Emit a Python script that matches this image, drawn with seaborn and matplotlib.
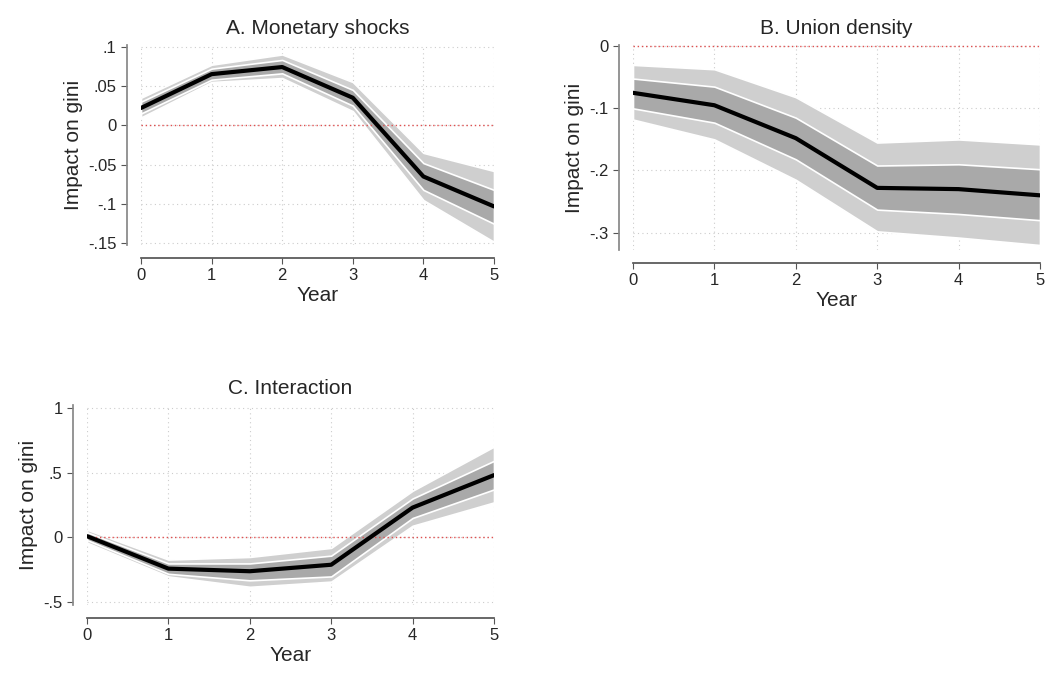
import matplotlib
matplotlib.use("Agg")
import matplotlib.pyplot as plt
import seaborn as sns
import pandas as pd

sns.set_theme(style="white")
plt.rcParams['font.family'] = ['Liberation Sans', 'DejaVu Sans']

years = [0, 1, 2, 3, 4, 5]
a_mid = [0.022, 0.065, 0.074, 0.035, -0.065, -0.103]
a_lo90 = [0.010, 0.055, 0.060, 0.018, -0.095, -0.148]
a_hi90 = [0.035, 0.077, 0.090, 0.055, -0.035, -0.058]
a_lo68 = [0.015, 0.058, 0.066, 0.025, -0.082, -0.125]
a_hi68 = [0.030, 0.072, 0.083, 0.045, -0.048, -0.082]

b_mid = [-0.075, -0.095, -0.148, -0.228, -0.230, -0.240]
b_lo90 = [-0.118, -0.150, -0.215, -0.298, -0.308, -0.320]
b_hi90 = [-0.030, -0.037, -0.082, -0.155, -0.150, -0.158]
b_lo68 = [-0.100, -0.123, -0.182, -0.263, -0.270, -0.280]
b_hi68 = [-0.052, -0.065, -0.115, -0.192, -0.190, -0.198]

c_mid = [0.01, -0.24, -0.26, -0.21, 0.23, 0.48]
c_lo90 = [-0.04, -0.30, -0.38, -0.34, 0.09, 0.27]
c_hi90 = [0.06, -0.17, -0.15, -0.08, 0.36, 0.70]
c_lo68 = [-0.02, -0.28, -0.33, -0.30, 0.15, 0.37]
c_hi68 = [0.04, -0.20, -0.20, -0.14, 0.30, 0.59]

a_ticks = [0.1, 0.05, 0, -0.05, -0.1, -0.15]
a_labels = [".1", ".05", "0", "-.05", "-.1", "-.15"]
b_ticks = [0, -0.1, -0.2, -0.3]
b_labels = ["0", "-.1", "-.2", "-.3"]
c_ticks = [1, 0.5, 0, -0.5]
c_labels = ["1", ".5", "0", "-.5"]

W, H = 1050, 675
fig = plt.figure(figsize=(10.5, 6.75), dpi=100)

def ax_px(x0, y0, x1, y1):
    return fig.add_axes([x0 / W, 1 - y1 / H, (x1 - x0) / W, (y1 - y0) / H])

def panel(ax, title, mid, lo90, hi90, lo68, hi68, ticks, labels, ylim):
    df = pd.DataFrame({"Year": years, "v": mid})
    ax.fill_between(years, lo90, hi90, color="#cfcfcf", edgecolor="white", linewidth=1.2, zorder=1)
    ax.fill_between(years, lo68, hi68, color="#a9a9a9", edgecolor="white", linewidth=1.2, zorder=2)
    sns.lineplot(data=df, x="Year", y="v", ax=ax, color="black", linewidth=3, zorder=4)
    ax.axhline(0, color="#e05050", linestyle=(0, (1, 2)), linewidth=1, zorder=3)
    ax.set_xlim(0, 5)
    ax.set_ylim(*ylim)
    ax.set_xticks(years)
    ax.set_yticks(ticks)
    ax.set_yticklabels(labels)
    ax.grid(True, color="#cccccc", linestyle=(0, (1, 3)), linewidth=0.8)
    for s in ["top", "right"]:
        ax.spines[s].set_visible(False)
    ax.spines["left"].set_position(("outward", 10))
    ax.spines["bottom"].set_position(("outward", 9))
    ax.spines["left"].set_color("#888888")
    ax.spines["bottom"].set_color("#555555")
    ax.tick_params(axis="both", direction="out", length=4, width=0.8, color="#555555",
                   labelsize=12, left=True, bottom=True)
    ax.set_xlabel("Year", fontsize=15, labelpad=2)
    ax.set_ylabel("Impact on gini", fontsize=15)
    ax.set_title(title, fontsize=15, pad=8)

axA = ax_px(141, 45, 494, 245)
panel(axA, "A. Monetary shocks", a_mid, a_lo90, a_hi90, a_lo68, a_hi68, a_ticks, a_labels, (-0.152, 0.102))
axB = ax_px(633, 45, 1040, 250)
panel(axB, "B. Union density", b_mid, b_lo90, b_hi90, b_lo68, b_hi68, b_ticks, b_labels, (-0.328, 0.002))
axC = ax_px(87, 405, 494, 605)
panel(axC, "C. Interaction", c_mid, c_lo90, c_hi90, c_lo68, c_hi68, c_ticks, c_labels, (-0.52, 1.02))

fig.savefig("out.png", dpi=100, facecolor="white")
